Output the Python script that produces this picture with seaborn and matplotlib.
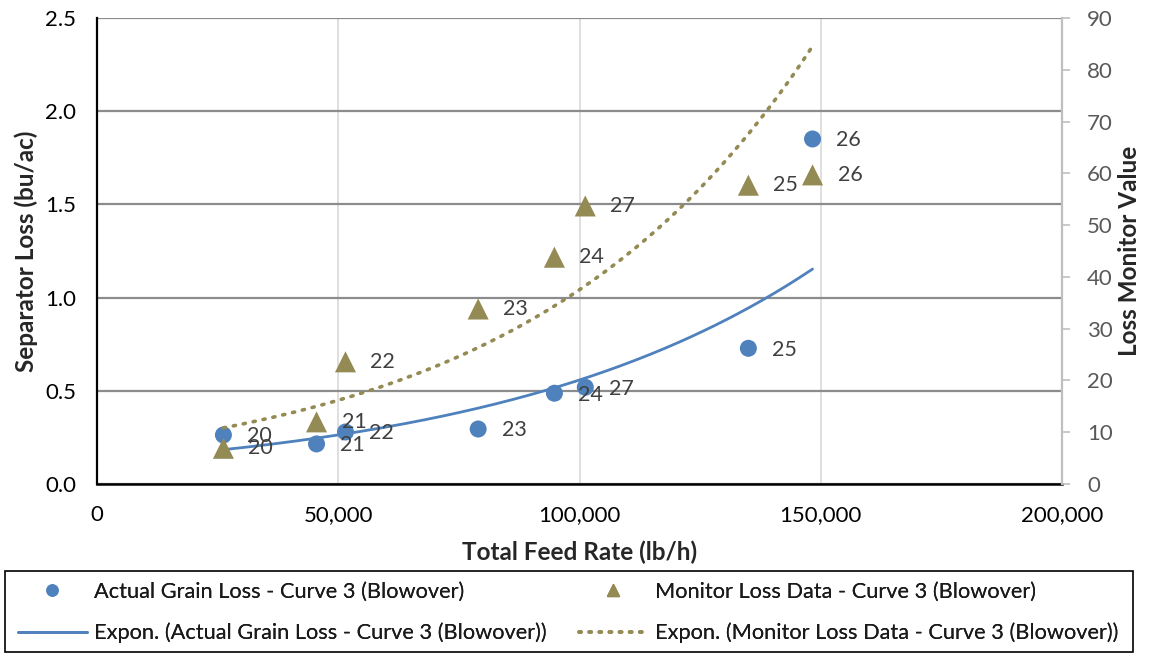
import numpy as np
import pandas as pd
import matplotlib
matplotlib.use("Agg")
import matplotlib.pyplot as plt
from matplotlib.lines import Line2D
from matplotlib.patches import Rectangle
import seaborn as sns

# Curve 3 (blowover) test runs
feed_rate = [26200, 45500, 51500, 79000, 94800, 101200, 135000, 148300]
actual_loss = [0.263, 0.215, 0.279, 0.295, 0.487, 0.519, 0.728, 1.851]
monitor_value = [6.9, 12.0, 23.6, 33.8, 43.8, 53.7, 57.7, 59.7]
run_labels = ["20", "21", "22", "23", "24", "27", "25", "26"]

x_ticks = [0, 50000, 100000, 150000, 200000]
left_ticks = [0.0, 0.5, 1.0, 1.5, 2.0, 2.5]
right_ticks = list(range(0, 100, 10))

BLUE = "#4f81bd"
OLIVE = "#948a54"
FONT = "Lato"
W, H = 1149, 654

sns.set_theme(style="white")
plt.rcParams["font.family"] = [FONT, "DejaVu Sans"]

df = pd.DataFrame({"feed": feed_rate, "actual": actual_loss,
                   "monitor": monitor_value, "run": run_labels})


def expon_fit(x, y):
    b, ln_a = np.polyfit(np.asarray(x, float), np.log(np.asarray(y, float)), 1)
    xs = np.linspace(min(x), max(x), 200)
    return pd.DataFrame({"x": xs, "y": np.exp(ln_a) * np.exp(b * xs)})


fig = plt.figure(figsize=(W / 100, H / 100), dpi=100)
ax = fig.add_axes([97 / W, 1 - 484 / H, (1062 - 97) / W, (484 - 18) / H])
ax2 = ax.twinx()

# gridlines
ax.set_xlim(0, 200000)
ax.set_ylim(0, 2.5)
ax2.set_ylim(0, 90)
ax.set_xticks(x_ticks)
ax.set_yticks(left_ticks)
ax2.set_yticks(right_ticks)
ax.grid(axis="y", color="#8c8c8c", linewidth=1.6)
ax.grid(axis="x", color="#d9d9d9", linewidth=1.2)
ax.set_axisbelow(True)

# actual grain loss on left axis
sns.scatterplot(data=df, x="feed", y="actual", ax=ax, color=BLUE, s=150,
                marker="o", edgecolor="none", zorder=5, legend=False)
fit_a = expon_fit(feed_rate, actual_loss)
sns.lineplot(data=fit_a, x="x", y="y", ax=ax, color=BLUE, linewidth=2,
             zorder=4, legend=False)

# monitor readings on right axis
sns.scatterplot(data=df, x="feed", y="monitor", ax=ax2, color=OLIVE, s=230,
                marker="^", edgecolor="none", zorder=5, legend=False)
fit_m = expon_fit(feed_rate, monitor_value)
sns.lineplot(data=fit_m, x="x", y="y", ax=ax2, color=OLIVE, linewidth=2.6,
             linestyle=(0, (0.6, 2.2)), dash_capstyle="round", zorder=4, legend=False)

LABEL_SIZE = 15.5
for xv, yv, lab in zip(feed_rate, actual_loss, run_labels):
    ax.annotate(lab, (xv, yv), xytext=(17, -1), textcoords="offset points",
                ha="left", va="center", fontsize=LABEL_SIZE, color="#404040", zorder=6)
for xv, yv, lab in zip(feed_rate, monitor_value, run_labels):
    ax2.annotate(lab, (xv, yv), xytext=(18, 0), textcoords="offset points",
                 ha="left", va="center", fontsize=LABEL_SIZE, color="#404040", zorder=6)

# spines and ticks
ax.spines["top"].set_visible(False)
ax2.spines["top"].set_visible(False)
ax.spines["right"].set_visible(False)
ax2.spines["left"].set_visible(False)
ax2.spines["bottom"].set_visible(False)
ax.spines["left"].set_color("black")
ax.spines["bottom"].set_color("black")
ax.spines["left"].set_linewidth(1.6)
ax.spines["bottom"].set_linewidth(1.8)
ax2.spines["right"].set_color("#bfbfbf")
ax2.spines["right"].set_linewidth(1.6)

TICK_SIZE = 16
ax.tick_params(axis="y", length=0, labelsize=TICK_SIZE, colors="black", pad=15)
ax.tick_params(axis="x", length=0, labelsize=TICK_SIZE, colors="black", pad=15)
ax2.tick_params(axis="y", length=6, width=1.2, color="#bfbfbf",
                labelcolor="#595959", labelsize=TICK_SIZE, pad=12)
ax.set_yticklabels([f"{v:.1f}" for v in left_ticks])
ax.set_xticklabels([f"{v:,}" for v in x_ticks])

ax.set_xlabel("Total Feed Rate (lb/h)", fontsize=17.5, fontweight="bold", labelpad=11)
ax.set_ylabel("Separator Loss (bu/ac)", fontsize=17.5, fontweight="bold", labelpad=5)
ax2.set_ylabel("Loss Monitor Value", fontsize=17.5, fontweight="bold", labelpad=4)

# legend box spanning the figure width
fig.patches.append(Rectangle((5 / W, 1 - 652 / H), 1128 / W, 81 / H,
                             transform=fig.transFigure, fill=False,
                             edgecolor="black", linewidth=1.2))

LEG_SIZE = 15.7
dot_style = (0, (0.6, 2.2))
col1 = [
    (Line2D([], [], marker="o", color=BLUE, linestyle="none", markersize=8),
     "Actual Grain Loss - Curve 3 (Blowover)"),
    (Line2D([], [], color=BLUE, linewidth=2),
     "Expon. (Actual Grain Loss - Curve 3 (Blowover))"),
]
col2 = [
    (Line2D([], [], marker="^", color=OLIVE, linestyle="none", markersize=8.5),
     "Monitor Loss Data - Curve 3 (Blowover)"),
    (Line2D([], [], color=OLIVE, linewidth=2.6, linestyle=dot_style,
            dash_capstyle="round"),
     "Expon. (Monitor Loss Data - Curve 3 (Blowover))"),
]
for entries, x_left in [(col1, 18), (col2, 579)]:
    leg = fig.legend([e[0] for e in entries], [e[1] for e in entries],
                     loc="upper left", bbox_to_anchor=(x_left / W, 1 - 582 / H),
                     fontsize=LEG_SIZE, frameon=False, borderaxespad=0, borderpad=0,
                     handlelength=3.15, handletextpad=0.32, labelspacing=0.95)
    for t in leg.get_texts():
        t.set_color("#1a1a1a")
    fig.add_artist(leg)

fig.savefig("out.png", dpi=100, facecolor="white")
